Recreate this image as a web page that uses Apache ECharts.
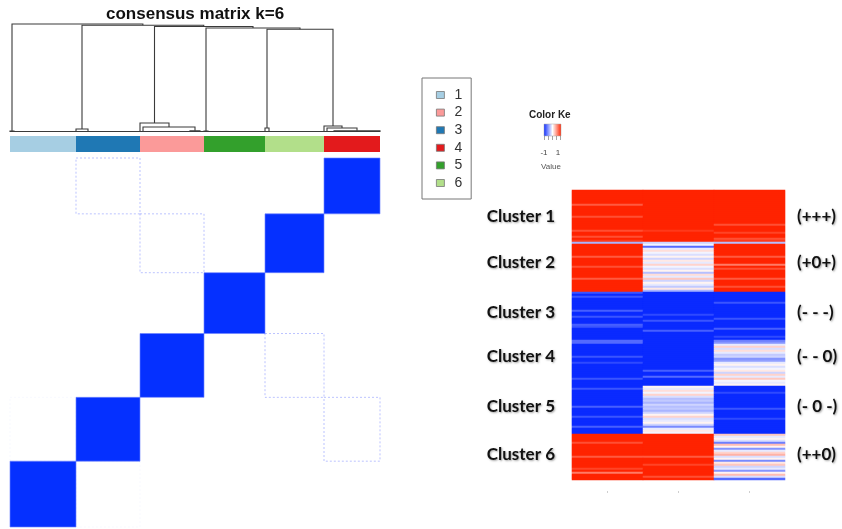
<!DOCTYPE html>
<html><head><meta charset="utf-8">
<script src="https://cdn.jsdelivr.net/npm/echarts@6/dist/echarts.min.js"></script>
<style>html,body{margin:0;padding:0;background:#fff}#c{width:842px;height:529px}</style>
</head><body><div id="c"></div>
<script>
// ================= DATA =================
// consensus clustering, k = 6
const clusterNames = ['1', '2', '3', '4', '5', '6'];
const clusterColors = ['#a6cee3', '#fb9a99', '#1f78b4', '#e31a1c', '#33a02c', '#b2df8a'];
const clusterSizes = [66, 64, 64, 56, 61, 59];          // samples per cluster (cluster 1..6)
const clusterOrder = [1, 3, 2, 5, 6, 4];                // dendrogram leaf order

// cluster-level consensus values (symmetric), rows/cols = cluster 1..6
const consensus1 = [1, 0, 0.01, 0, 0, 0];
const consensus2 = [0, 1, 0, 0, 0, 0.03];
const consensus3 = [0.01, 0, 1, 0.03, 0, 0];
const consensus4 = [0, 0, 0.03, 1, 0, 0];
const consensus5 = [0, 0, 0, 0, 1, 0];
const consensus6 = [0, 0.03, 0, 0, 0, 1];

// dendrogram: within-cluster subtrees [left, right, height] (leaf = sample offset)
const subTree1 = [0, 4, 0.008];
const subTree2 = [0, [3, [50, 60, 0.012], 0.046], 0.083];
const subTree3 = [0, 12, 0.028];
const subTree4 = [0, [3, [10, 56, 0.012], 0.037], 0.056];
const subTree5 = [0, 4, 0.008];
const subTree6 = [0, 4, 0.037];
// merges between clusters
const topTree = ['c1', ['c3', ['c2', ['c5', ['c6', 'c4', 0.952], 0.963], 0.977], 0.988], 1.0];

// profile heatmap (3 conditions), values -1..1, one array per column
const profileCluster1 = [
  [1,1,1,1,1,1,1,0.75,1,1,1,1,1,0.8,1,1,1,1,1,1,0.8,1,1,0.8,1,0.9,-0.35],
  [1,1,1,1,1,1,1,1,1,1,1,1,1,1,1,1,1,1,1,1,0.9,1,1,1,1,1,-0.2],
  [1,1,1,1,1,1,1,1,1,1,1,1,1,1,1,1,1,0.8,1,1,1,0.85,1,1,0.8,0.9,-0.3]
];
const profileCluster2 = [
  [1,1,1,1,1,1,0.75,1,1,1,1,0.8,1,1,1,1,1,0.75,1,1,1,1,1,1],
  [-0.05,-0.7,-0.1,0.15,-0.05,-0.15,0.05,-0.2,0.1,-0.1,0.2,-0.05,-0.15,0.05,-0.3,0.15,-0.1,0.25,-0.2,0.05,-0.1,-0.25,0.1,-0.35],
  [1,1,1,1,1,1,0.75,1,1,1,0.6,1,0.8,1,1,1,1,0.75,1,1,1,0.8,1,1]
];
const profileCluster3 = [
  [-0.8,-1,-0.8,-1,-1,-1,-1,-1,-1,-0.75,-1,-1,-0.8,-1,-1,-1,-0.75,-0.8,-1,-1,-1,-1,-1,-1,-0.7],
  [-1,-1,-1,-1,-1,-1,-1,-1,-1,-1,-1,-0.85,-1,-1,-0.8,-1,-1,-1,-1,-0.75,-1,-1,-1,-1,-1],
  [-1,-1,-1,-1,-1,-0.8,-1,-1,-1,-1,-1,-1,-1,-0.8,-1,-1,-1,-1,-0.75,-1,-1,-1,-0.85,-1,-0.6]
];
const profileCluster4 = [
  [-0.7,-1,-1,-1,-1,-1,-1,-0.8,-1,-1,-0.85,-1,-1,-1,-1,-1,-1,-1,-0.8,-1,-1,-1],
  [-1,-1,-1,-1,-1,-1,-1,-1,-1,-1,-1,-1,-1,-1,-0.75,-1,-1,-0.7,-1,-1,-1,-1],
  [-0.5,-0.1,0.2,-0.15,0.15,-0.1,-0.25,-0.2,-0.5,-0.45,-0.1,0.05,-0.15,-0.05,0.1,-0.2,0.2,-0.1,0.25,-0.05,-0.1,0.05]
];
const profileCluster5 = [
  [-1,-0.8,-1,-1,-1,-1,-1,-1,-1,-1,-0.75,-1,-1,-1,-1,-0.8,-1,-1,-1,-1,-0.75,-1,-1,-1],
  [0.05,-0.1,0.15,-0.05,0.2,-0.15,-0.3,-0.25,-0.35,-0.2,-0.3,-0.25,-0.35,-0.2,0.05,0.2,-0.15,-0.1,0.05,-0.2,-0.55,-0.1,0.1,-0.05],
  [-1,-1,-1,-0.85,-1,-1,-1,-1,-1,-1,-1,-0.8,-1,-1,-1,-1,-0.85,-1,-1,-1,-1,-1,-1,-1]
];
const profileCluster6 = [
  [1,1,1,1,0.8,1,1,1,1,1,1,0.75,1,1,1,1,1,0.85,1,0.6,1,1,1],
  [1,1,1,1,1,1,1,1,1,1,1,0.75,1,1,1,0.85,1,1,1,1,1,0.8,1],
  [0.25,-0.1,0.05,-0.15,-0.6,0.3,0.05,-0.5,-0.1,0.2,0.35,-0.15,0.05,-0.55,0.1,0.25,-0.2,-0.1,-0.5,0.05,0.3,-0.15,-0.7]
];
const profileColumns = ['1', '2', '3'];
const profileLabels = ['Cluster 1', 'Cluster 2', 'Cluster 3', 'Cluster 4', 'Cluster 5', 'Cluster 6'];
const patternLabels = ['(+++)', '(+0+)', '(- - -)', '(- - 0)', '(- 0 -)', '(++0)'];
const keyLabels = ['-1', '1'];

// ================= LAYOUT =================
const labelRowOffset = [13, 9, 10, 7, 10, 10];

// ================= BUILD =================
const consensus = [consensus1, consensus2, consensus3, consensus4, consensus5, consensus6];
const subTrees = [subTree1, subTree2, subTree3, subTree4, subTree5, subTree6];
const profiles = [profileCluster1, profileCluster2, profileCluster3, profileCluster4, profileCluster5, profileCluster6];

const starts = {};
let acc = 0;
clusterOrder.forEach(n => { starts[n] = acc; acc += clusterSizes[n - 1]; });
const total = acc;

const dendroSegs = [];
function walk(node, offset) {
  if (typeof node === 'number') return { x: offset + node, h: 0 };
  if (typeof node === 'string') { const n = +node.slice(1); return walk(subTrees[n - 1], starts[n]); }
  const L = walk(node[0], offset), R = walk(node[1], offset), h = node[2];
  dendroSegs.push([L.x, L.h, R.x, R.h, h]);
  return { x: (L.x + R.x) / 2, h: h };
}
walk(topTree, 0);
clusterOrder.forEach(n => {
  dendroSegs.push([starts[n], 0.004, starts[n] + clusterSizes[n - 1], 0.004, 0.004]);
});

const blockData = [];
clusterOrder.forEach(ci => {
  clusterOrder.forEach(rj => {
    const v = consensus[ci - 1][rj - 1];
    if (v > 0) blockData.push([starts[ci], starts[ci] + clusterSizes[ci - 1], starts[rj], starts[rj] + clusterSizes[rj - 1], v]);
  });
});

const rowIds = [], heatData = [], clusterStartRow = [];
let r = 0;
profiles.forEach(p => {
  clusterStartRow.push(r);
  for (let i = 0; i < p[0].length; i++) {
    for (let c = 0; c < 3; c++) heatData.push([c, r, p[c][i]]);
    rowIds.push(String(r));
    r++;
  }
});
const leftLab = {}, rightLab = {};
profiles.forEach((p, k) => {
  const row = clusterStartRow[k] + labelRowOffset[k];
  leftLab[row] = profileLabels[k];
  rightLab[row] = patternLabels[k];
});

const barSeries = clusterNames.map((name, k) => ({
  type: 'custom', name: name, xAxisIndex: 1, yAxisIndex: 1,
  itemStyle: { color: clusterColors[k] },
  data: [[starts[k + 1], starts[k + 1] + clusterSizes[k]]],
  encode: { x: [0, 1] },
  renderItem: function (params, api) {
    const a = api.coord([api.value(0), 1]);
    const b = api.coord([api.value(1), 0]);
    return { type: 'rect', shape: { x: a[0], y: a[1], width: b[0] - a[0], height: b[1] - a[1] },
      style: { fill: api.visual('color') } };
  }
}));

const labelFont = {
  fontFamily: 'Lato', fontWeight: 'bold', fontSize: 17, color: '#111',
  textShadowColor: 'rgba(0,0,0,0.35)', textShadowBlur: 2, textShadowOffsetX: 1, textShadowOffsetY: 1
};

const hiddenVal = (gi, max) => ({ type: 'value', gridIndex: gi, min: 0, max: max, show: false });

const chart = echarts.init(document.getElementById('c'), null, { renderer: 'canvas' });
chart.setOption({
  backgroundColor: '#fff',
  animation: false,
  title: {
    text: 'consensus matrix k=6', left: 106, top: 6, padding: 0,
    textStyle: { fontFamily: 'Liberation Sans', fontSize: 17, fontWeight: 'bold', color: '#111' }
  },
  legend: {
    data: clusterNames, orient: 'vertical', left: 422, top: 78,
    padding: [10, 9, 9, 14], itemWidth: 8, itemHeight: 7, itemGap: 3.6,
    borderColor: '#777', borderWidth: 1, icon: 'rect', selectedMode: false,
    itemStyle: { borderColor: '#777', borderWidth: 0.8 },
    textStyle: { fontFamily: 'Liberation Sans', fontSize: 14, color: '#333', lineHeight: 14, padding: [0, 0, 0, 5] }
  },
  grid: [
    { left: 10, top: 24, width: 370, height: 108 },
    { left: 10, top: 136, width: 370, height: 16 },
    { left: 10, top: 158, width: 370, height: 369 },
    { left: 572, top: 190, width: 213, height: 290 }
  ],
  xAxis: [
    hiddenVal(0, total), hiddenVal(1, total), hiddenVal(2, total),
    { type: 'category', gridIndex: 3, data: profileColumns, position: 'bottom', offset: 11,
      axisLine: { show: false }, axisLabel: { show: false },
      axisTick: { show: true, alignWithLabel: true, length: 2, lineStyle: { color: '#cfcfcf' } } }
  ],
  yAxis: [
    hiddenVal(0, 1), hiddenVal(1, 1), hiddenVal(2, total),
    { type: 'category', gridIndex: 3, data: rowIds, inverse: true, position: 'left',
      axisLine: { show: false }, axisTick: { show: false },
      axisLabel: Object.assign({ interval: 0, margin: 17, formatter: (v, i) => leftLab[i] || '' }, labelFont) },
    { type: 'category', gridIndex: 3, data: rowIds, inverse: true, position: 'right',
      axisLine: { show: false }, axisTick: { show: false },
      axisLabel: Object.assign({ interval: 0, margin: 12, formatter: (v, i) => rightLab[i] || '' }, labelFont) }
  ],
  visualMap: {
    type: 'continuous', min: -1, max: 1, show: false, seriesIndex: 8,
    inRange: { color: ['#0a2aff', '#ffffff', '#ff2300'] }
  },
  graphic: [
    { type: 'text', left: 529, top: 110, style: { text: 'Color Ke', font: 'bold 10px "Liberation Sans"', fill: '#222' } },
    { type: 'rect', shape: { x: 544, y: 124, width: 17, height: 12 },
      style: { stroke: '#aaa', lineWidth: 0.5,
        fill: new echarts.graphic.LinearGradient(0, 0, 1, 0, [
          { offset: 0, color: '#0a2aff' }, { offset: 0.5, color: '#ffffff' }, { offset: 1, color: '#ff2300' }]) } },
    ...[0, 1, 2, 3, 4].map(i => ({ type: 'line', shape: { x1: 544.5 + i * 4, y1: 136, x2: 544.5 + i * 4, y2: 140 },
      style: { stroke: '#666', lineWidth: 0.6 } })),
    { type: 'text', x: 544, y: 153, style: { text: keyLabels[0], font: '8px "Liberation Sans"', fill: '#444', textAlign: 'center', textVerticalAlign: 'middle' } },
    { type: 'text', x: 558, y: 153, style: { text: keyLabels[1], font: '8px "Liberation Sans"', fill: '#444', textAlign: 'center', textVerticalAlign: 'middle' } },
    { type: 'text', x: 551, y: 167, style: { text: 'Value', font: '8px "Liberation Sans"', fill: '#555', textAlign: 'center', textVerticalAlign: 'middle' } }
  ],
  series: [
    { type: 'custom', xAxisIndex: 0, yAxisIndex: 0, data: dendroSegs, encode: { x: [0, 2], y: [1, 3, 4] },
      renderItem: function (params, api) {
        const p1 = api.coord([api.value(0), api.value(1)]);
        const p2 = api.coord([api.value(0), api.value(4)]);
        const p3 = api.coord([api.value(2), api.value(4)]);
        const p4 = api.coord([api.value(2), api.value(3)]);
        return { type: 'polyline', shape: { points: [p1, p2, p3, p4] },
          style: { stroke: '#3a3a3a', lineWidth: 1.1, fill: null } };
      } },
    ...barSeries,
    { type: 'custom', xAxisIndex: 2, yAxisIndex: 2, data: blockData, encode: { x: [0, 1], y: [2, 3] },
      renderItem: function (params, api) {
        const a = api.coord([api.value(0), api.value(3)]);
        const b = api.coord([api.value(1), api.value(2)]);
        const v = api.value(4);
        const shape = { x: a[0], y: a[1], width: b[0] - a[0], height: b[1] - a[1] };
        if (v >= 0.5) return { type: 'rect', shape: shape, style: { fill: '#0530ff', stroke: 'rgba(110,130,255,0.9)', lineWidth: 0.7 } };
        return { type: 'rect', shape: shape, style: { fill: 'none', stroke: 'rgba(70,90,255,' + Math.min(0.4, v * v * 400) + ')', lineWidth: 1, lineDash: [2, 2] } };
      } },
    { type: 'heatmap', xAxisIndex: 3, yAxisIndex: 3, data: heatData,
      itemStyle: { borderWidth: 0 }, emphasis: { disabled: true }, progressive: 0 }
  ]
});
</script>
</body></html>
